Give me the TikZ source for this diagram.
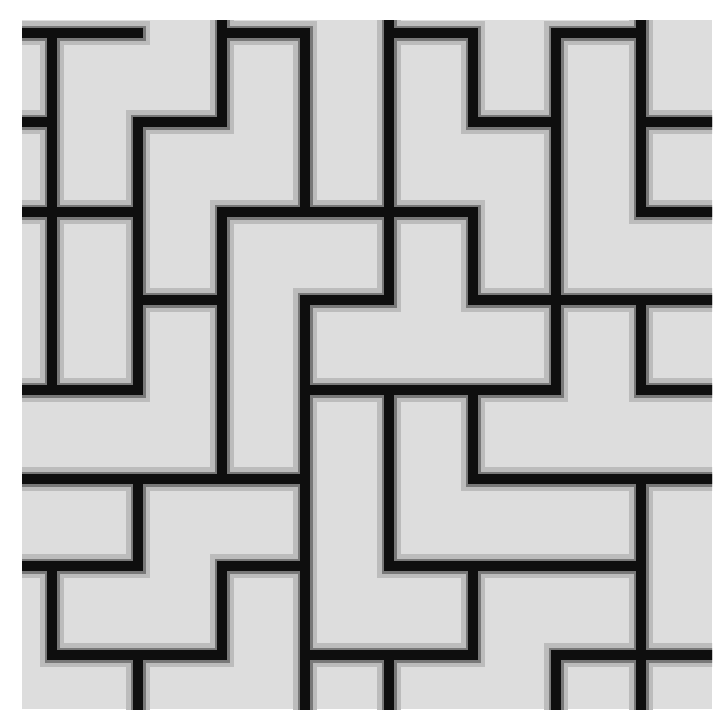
\documentclass[tikz,border=0pt]{standalone}
\definecolor{bgfill}{RGB}{221,221,221}
\definecolor{halo}{RGB}{188,188,188}
\definecolor{midg}{RGB}{120,120,120}
\definecolor{core}{RGB}{14,14,14}
\begin{document}
\begin{tikzpicture}[x=1pt,y=-1pt]
\useasboundingbox (0,0) rectangle (722,716);
\fill[white] (0,0) rectangle (722,716);
\fill[bgfill] (22,20) rectangle (712,709);
\begin{scope}
\clip (22,20) rectangle (712,709);
\foreach \w/\c in {24/halo,15/midg,10/core}{
\draw[line width=\w pt, draw=\c, line cap=rect, line join=miter]
 (22,33)--(138,33)
 (52,33)--(52,390)
 (22,122)--(52,122)
 (22,212)--(138,212)
 (222,20)--(222,122)--(138,122)--(138,390)--(22,390)
 (222,33)--(305,33)--(305,212)
 (138,300)--(222,300)
 (473,212)--(222,212)--(222,479)
 (22,479)--(305,479)
 (389,20)--(389,300)--(305,300)--(305,709)
 (389,33)--(473,33)--(473,122)--(556,122)
 (556,33)--(556,390)
 (556,33)--(641,33)
 (641,20)--(641,212)
 (305,390)--(556,390)
 (641,122)--(712,122)
 (641,212)--(712,212)
 (473,212)--(473,300)--(712,300)
 (641,300)--(641,390)--(712,390)
 (389,390)--(389,566)
 (473,390)--(473,479)--(712,479)
 (641,479)--(641,709)
 (389,566)--(641,566)
 (473,566)--(473,655)--(305,655)
 (389,655)--(389,709)
 (556,655)--(556,709)
 (556,655)--(712,655)
 (138,479)--(138,566)--(22,566)
 (222,566)--(305,566)
 (222,566)--(222,655)--(52,655)--(52,566)
 (138,655)--(138,709);
}
\end{scope}
\end{tikzpicture}
\end{document}
